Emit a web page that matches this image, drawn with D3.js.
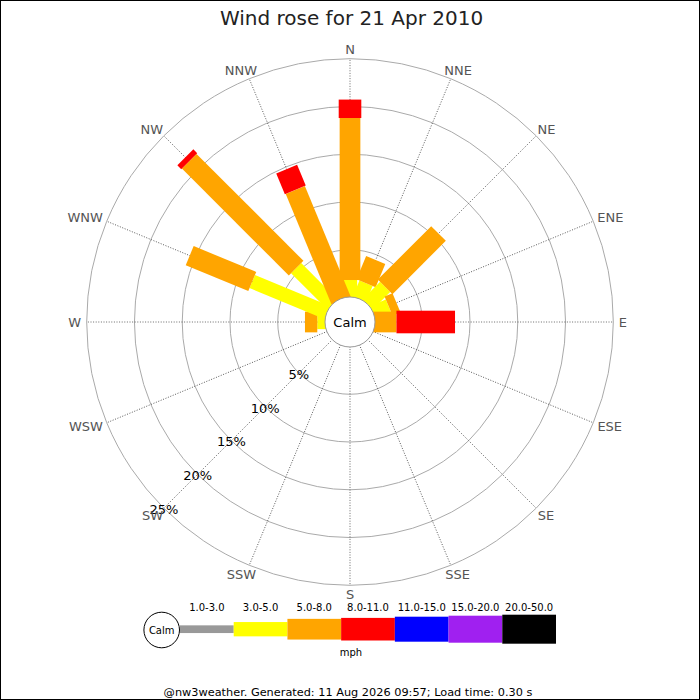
<!DOCTYPE html>
<html>
<head>
<meta charset="utf-8">
<script src="https://cdn.jsdelivr.net/npm/d3@7"></script>
<style>
  body { margin: 0; background: #fff; }
  text { font-family: "DejaVu Sans", sans-serif; }
</style>
</head>
<body>
<div id="chart"></div>
<script>
// Compass directions, clockwise from north
const directions = ["N", "NNE", "NE", "ENE", "E", "ESE", "SE", "SSE",
                    "S", "SSW", "SW", "WSW", "W", "WNW", "NW", "NNW"];

// Speed bins (mph) and colours
const speedBins = ["1.0-3.0", "3.0-5.0", "5.0-8.0", "8.0-11.0", "11.0-15.0", "15.0-20.0", "20.0-50.0"];
const binColors = ["#999999", "#ffff00", "#ffa500", "#ff0000", "#0000ff", "#a020f0", "#000000"];
const binThickness = [7.7, 14.3, 20.7, 22.6, 25, 27, 29];

// Percent of time per direction, one array per speed bin
const speed1to3   = [0,    0,    0,    0,   0,    0, 0, 0, 0, 0, 0, 0, 0,    0,    0,     0];
const speed3to5   = [1.83, 1.83, 2.64, 1.8, 0,    0, 0, 0, 0, 0, 0, 0, 0.86, 8.51, 5.41,  0];
const speed5to8   = [16.96, 2.64, 7.9, 0.9, 2.3,  0, 0, 0, 0, 0, 0, 0, 1.29, 7.09, 15.83, 12.4];
const speed8to11  = [1.93, 0,    0,    0,   6.13, 0, 0, 0, 0, 0, 0, 0, 0,    0,    0.57,  2.36];
const speed11to15 = [0,    0,    0,    0,   0,    0, 0, 0, 0, 0, 0, 0, 0,    0,    0,     0];
const speed15to20 = [0,    0,    0,    0,   0,    0, 0, 0, 0, 0, 0, 0, 0,    0,    0,     0];
const speed20to50 = [0,    0,    0,    0,   0,    0, 0, 0, 0, 0, 0, 0, 0,    0,    0,     0];
const binValues = [speed1to3, speed3to5, speed5to8, speed8to11, speed11to15, speed15to20, speed20to50];

const percentTicks = [5, 10, 15, 20, 25];

const titleText = "Wind rose for 21 Apr 2010";
const unitText = "mph";
const footerText = "@nw3weather. Generated: 11 Aug 2026 09:57; Load time: 0.30 s";

// Layout
const width = 700, height = 700;
const cx = 350, cy = 322;
const calmR = 24.5, outerR = 263.3;

const svg = d3.select("#chart").append("svg")
    .attr("width", width)
    .attr("height", height);

svg.append("rect")
    .attr("x", 0.5).attr("y", 0.5)
    .attr("width", width - 1).attr("height", height - 1)
    .attr("fill", "#fff")
    .attr("stroke", "#000");

svg.append("text")
    .attr("x", 351.5)
    .attr("y", 25)
    .attr("text-anchor", "middle")
    .attr("font-size", "20px")
    .attr("fill", "#222")
    .text(titleText);

const rScale = d3.scaleLinear().domain([0, 25]).range([calmR, outerR]);
const angle = d3.scalePoint().domain(directions).range([0, 337.5]);

const rose = svg.append("g").attr("transform", `translate(${cx},${cy})`);

// Range circles
rose.selectAll("circle.ring")
    .data(percentTicks)
    .enter().append("circle")
    .attr("class", "ring")
    .attr("r", d => rScale(d))
    .attr("fill", "none")
    .attr("stroke", "#aaa")
    .attr("stroke-width", 1);

// Direction axes
rose.selectAll("line.axis")
    .data(directions)
    .enter().append("line")
    .attr("class", "axis")
    .attr("transform", d => `rotate(${angle(d)})`)
    .attr("x1", 0).attr("y1", -calmR)
    .attr("x2", 0).attr("y2", -outerR)
    .attr("stroke", "#444")
    .attr("stroke-width", 0.8)
    .attr("stroke-dasharray", "1,1.6");

// Bars: stacked segments per direction
directions.forEach((dir, i) => {
    const g = rose.append("g").attr("transform", `rotate(${angle(dir)})`);
    let cum = 0;
    binValues.forEach((vals, k) => {
        const v = vals[i];
        if (v <= 0) return;
        const inner = cum === 0 ? 0 : rScale(cum);
        const outer = rScale(cum + v);
        g.append("rect")
            .attr("x", -binThickness[k] / 2)
            .attr("y", -outer)
            .attr("width", binThickness[k])
            .attr("height", outer - inner)
            .attr("fill", binColors[k]);
        cum += v;
    });
});

// Calm circle
rose.append("circle")
    .attr("r", calmR + 0.5)
    .attr("fill", "#fff")
    .attr("stroke", "#999")
    .attr("stroke-width", 1);

rose.append("text")
    .attr("x", 0).attr("y", 0)
    .attr("dy", "0.36em")
    .attr("text-anchor", "middle")
    .attr("font-size", "13px")
    .attr("fill", "#000")
    .text("Calm");

// Percent labels along SW
const sw = 225 * Math.PI / 180;
rose.selectAll("text.pct")
    .data(percentTicks)
    .enter().append("text")
    .attr("class", "pct")
    .attr("x", d => rScale(d) * Math.sin(sw))
    .attr("y", d => -rScale(d) * Math.cos(sw) + 1)
    .attr("dy", "0.36em")
    .attr("text-anchor", "middle")
    .attr("font-size", "13px")
    .attr("fill", "#000")
    .text(d => d + "%");

// Compass labels just outside the outer ring
rose.selectAll("text.dir")
    .data(directions)
    .enter().append("text")
    .attr("class", "dir")
    .attr("text-anchor", "middle")
    .attr("dy", "0.36em")
    .attr("font-size", "13px")
    .attr("fill", "#555")
    .text(d => d)
    .each(function(d) {
        const a = angle(d) * Math.PI / 180;
        const w = this.getBBox().width;
        const sx = Math.sin(a), cy_ = -Math.cos(a);
        d3.select(this)
            .attr("x", outerR * sx + sx * (w / 2 + 5.5))
            .attr("y", outerR * cy_ + cy_ * 9.5);
    });

// Legend
const legendX = d3.scaleBand().domain(speedBins).range([180, 556]);
const legendY = 629.2;
const legend = svg.append("g").attr("class", "legend");

legend.append("circle")
    .attr("cx", 161.7).attr("cy", 630)
    .attr("r", 17.8)
    .attr("fill", "#fff")
    .attr("stroke", "#000");

legend.append("text")
    .attr("x", 161.7).attr("y", 630)
    .attr("dy", "0.36em")
    .attr("text-anchor", "middle")
    .attr("font-size", "10px")
    .text("Calm");

legend.selectAll("rect.bin")
    .data(speedBins)
    .enter().append("rect")
    .attr("class", "bin")
    .attr("x", d => legendX(d))
    .attr("y", (d, i) => legendY - binThickness[i] / 2)
    .attr("width", legendX.bandwidth())
    .attr("height", (d, i) => binThickness[i])
    .attr("fill", (d, i) => binColors[i]);

legend.selectAll("text.bin")
    .data(speedBins)
    .enter().append("text")
    .attr("class", "bin")
    .attr("x", d => legendX(d) + legendX.bandwidth() / 2)
    .attr("y", 610.5)
    .attr("text-anchor", "middle")
    .attr("font-size", "10px")
    .attr("fill", "#000")
    .text(d => d);

legend.append("text")
    .attr("x", 351).attr("y", 656)
    .attr("text-anchor", "middle")
    .attr("font-size", "10px")
    .text(unitText);

svg.append("text")
    .attr("x", 348).attr("y", 695.5)
    .attr("text-anchor", "middle")
    .attr("font-size", "11.3px")
    .attr("fill", "#000")
    .text(footerText);
</script>
</body>
</html>
